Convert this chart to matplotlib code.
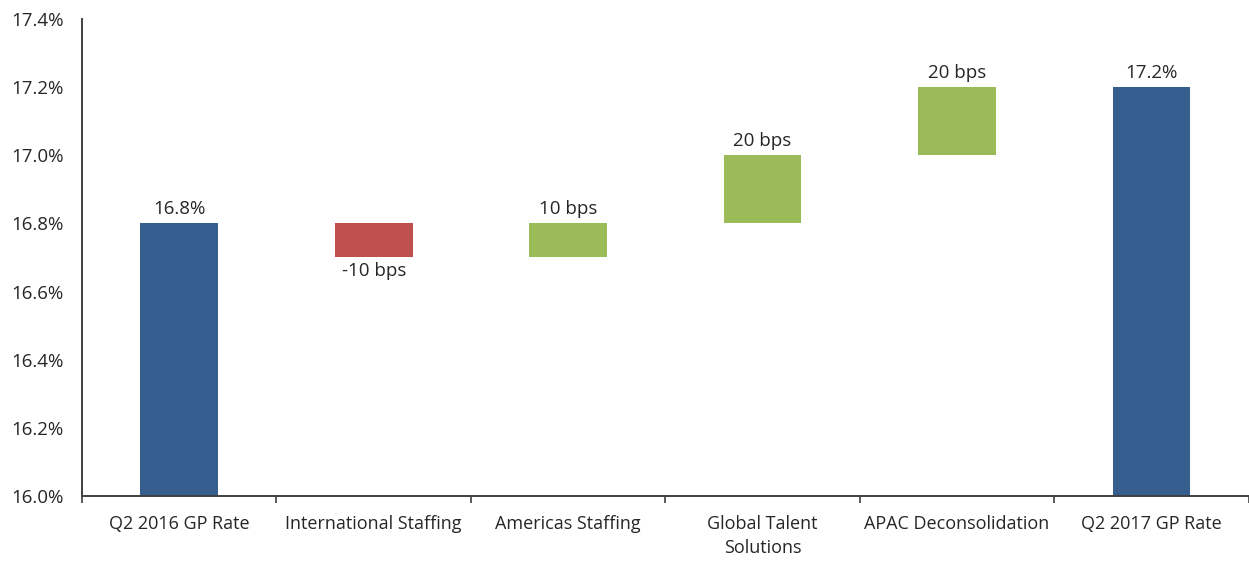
import matplotlib
matplotlib.use("Agg")
import matplotlib.pyplot as plt
import numpy as np

categories = ["Q2 2016 GP Rate", "International Staffing", "Americas Staffing",
              "Global Talent\nSolutions", "APAC Deconsolidation", "Q2 2017 GP Rate"]
start_value = 16.8
changes = [-0.1, 0.1, 0.2, 0.2]
end_value = 17.2
change_labels = ["-10 bps", "10 bps", "20 bps", "20 bps"]
total_labels = ["16.8%", "17.2%"]
y_ticks = [16.0, 16.2, 16.4, 16.6, 16.8, 17.0, 17.2, 17.4]

BLUE = "#355E8E"
RED = "#C0504D"
GREEN = "#9BBB59"
TXT = "#262626"

plt.rcParams['font.family'] = ['Open Sans', 'DejaVu Sans']

fig = plt.figure(figsize=(12.49, 5.61), dpi=100)
ax = fig.add_axes([0.0657, 0.1159, 0.934, 0.8502])

x = np.arange(len(categories))
w = 0.40
ymin = 16.0
FS = 13.5

# totals
ax.bar(x[0], start_value - ymin, bottom=ymin, width=w, color=BLUE)
ax.bar(x[-1], end_value - ymin, bottom=ymin, width=w, color=BLUE)
ax.text(x[0], start_value + 0.015, total_labels[0], ha="center", va="bottom", fontsize=FS, color=TXT)
ax.text(x[-1], end_value + 0.015, total_labels[1], ha="center", va="bottom", fontsize=FS, color=TXT)

level = start_value
for i, (c, lab) in enumerate(zip(changes, change_labels)):
    xi = x[i + 1]
    new = level + c
    lo, hi = min(level, new), max(level, new)
    col = GREEN if c > 0 else RED
    ax.bar(xi, hi - lo, bottom=lo, width=w, color=col)
    if c > 0:
        ax.text(xi, hi + 0.015, lab, ha="center", va="bottom", fontsize=FS, color=TXT)
    else:
        ax.text(xi, lo - 0.012, lab, ha="center", va="top", fontsize=FS, color=TXT)
    level = new

ax.set_xlim(-0.5, len(categories) - 0.5)
ax.set_ylim(16.0, 17.4)
ax.set_yticks(y_ticks)
ax.set_yticklabels([f"{v:.1f}%" for v in y_ticks], fontsize=FS, color=TXT)
ax.tick_params(axis="y", length=0, pad=13)

ax.set_xticks(x)
ax.set_xticklabels(categories, fontsize=13, color=TXT, linespacing=1.4)
ax.set_xticks(np.arange(len(categories) + 1) - 0.5, minor=True)
ax.tick_params(axis="x", which="major", length=0, pad=14)
ax.tick_params(axis="x", which="minor", length=5, width=1.2, color="#404040", direction="out")

for s in ["top", "right"]:
    ax.spines[s].set_visible(False)
for s in ["left", "bottom"]:
    ax.spines[s].set_color("#404040")
    ax.spines[s].set_linewidth(1.4)

fig.savefig("out.png", dpi=100)
